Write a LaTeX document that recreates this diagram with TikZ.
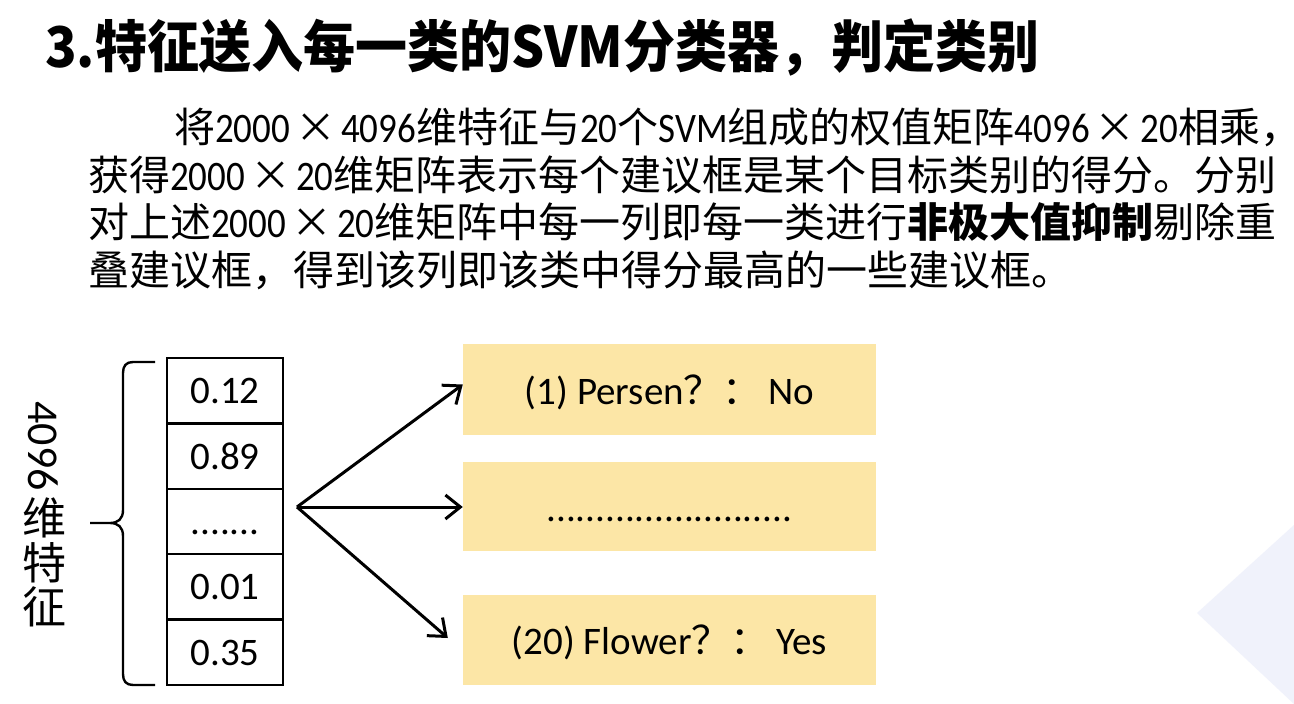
\documentclass[tikz,border=0pt]{standalone}
\usepackage{fontspec}
\setmainfont{Carlito}[Numbers=Lining]
\newfontfamily\cjk{Noto Sans CJK SC}
\usetikzlibrary{arrows.meta}
\definecolor{boxyellow}{HTML}{FCE6A6}
\definecolor{cornerblue}{HTML}{F0F2FB}
\newcommand\lat[1]{\scalebox{0.88}[1]{\normalfont\fontsize{42}{48}\selectfont #1}}
\newcommand\tms{\kern5pt×\kern5pt}
\begin{document}
\begin{tikzpicture}[x=1pt,y=-1pt,
  cell/.style={draw=black,line width=2.5pt,minimum width=116pt,minimum height=65.4pt,inner sep=0pt,
    text height=26pt,text depth=0pt,font=\fontsize{39}{39}\selectfont},
  ybox/.style={fill=boxyellow,minimum width=413pt,inner sep=0pt,
    text height=34pt,text depth=5pt,font=\fontsize{39}{39}\selectfont},
  arr/.style={line width=3pt,-{Straight Barb[length=15pt,width=24pt,line width=3pt]}},
  body/.style={anchor=base west,inner sep=0pt,font=\cjk\fontsize{41}{48}\selectfont},
  side/.style={inner sep=0pt,font=\cjk\fontsize{44}{44}\selectfont}
]
\useasboundingbox (0,0) rectangle (1294,704);
\fill[white] (0,0) rectangle (1294,704);
% faint background corner
\fill[cornerblue] (1294,525) -- (1197,613) -- (1294,704) -- cycle;

% title
\node[anchor=base west,inner sep=0pt,font=\cjk\bfseries\fontsize{52}{52}\selectfont] (title) at (45,67) {\scalebox{1.0}[1.08]{3.特征送入每一类的SVM分类器，判定类别}};

% body
\node[body] (l1) at (174,142) {将\lat{2000}\tms\lat{4096}维特征与\lat{20}个\lat{SVM}组成的权值矩阵\lat{4096}\tms\lat{20}相乘\makebox[16pt][l]{，}};
\node[body] (l2) at (88,190) {获得\lat{2000}\tms\lat{20}维矩阵表示每个建议框是某个目标类别的得分。分别};
\node[body] (l3) at (88,237) {对上述\lat{2000}\tms\lat{20}维矩阵中每一列即每一类进行{\bfseries 非极大值抑制}剔除重};
\node[body] (l4) at (88,285) {叠建议框，得到该列即该类中得分最高的一些建议框。};

% cells
\node[cell] (c1) at (225,390.7) {0.12};
\node[cell] (c2) at (225,456.1) {0.89};
\node[cell] (c3) at (225,521.5) {.......};
\node[cell] (c4) at (225,586.9) {0.01};
\node[cell] (c5) at (225,652.3) {0.35};

% brace
\draw[line width=2.4pt] (155,362) -- (133,362) .. controls (126,362) and (123,366) .. (123,373)
  -- (123,510) .. controls (123,519) and (118,523) .. (110,523) -- (90,523)
  (110,523) .. controls (118,523) and (123,527) .. (123,536)
  -- (123,674) .. controls (123,681) and (126,685) .. (133,685) -- (155,685);

% side label
\node[side,rotate=-90] (s1) at (43,446) {\normalfont\fontsize{44}{44}\selectfont 4096};
\node[side] (s2) at (44,518) {维};
\node[side] (s3) at (44,563) {特};
\node[side] (s4) at (44,607) {征};

% yellow boxes
\node[ybox,minimum height=91pt] (b1) at (669.5,389.5) {(1) Persen{\cjk ？：}\,No};
\node[ybox,minimum height=89pt] (b2) at (669.5,506.5) {.........................};
\node[ybox,minimum height=90pt] (b3) at (669.5,640) {(20) Flower{\cjk ？：}\,Yes};

% arrows
\coordinate (apex) at (297,507);
\draw[arr] (apex) -- ([yshift=5pt]b1.west);
\draw[arr] (apex) -- (b2.west |- apex);
\draw[arr] (apex) -- ([xshift=-15pt,yshift=2pt]b3.west);
\end{tikzpicture}
\end{document}
